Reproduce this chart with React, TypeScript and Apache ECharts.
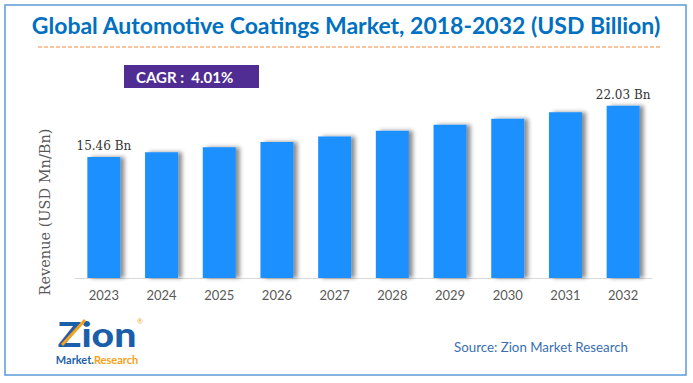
import React, { useEffect, useRef } from "react";
import * as echarts from "echarts";

const categories = ["2023", "2024", "2025", "2026", "2027", "2028", "2029", "2030", "2031", "2032"];
const revenue = [15.46, 16.08, 16.73, 17.4, 18.1, 18.82, 19.58, 20.36, 21.18, 22.03];
const labelledYears = ["2023", "2032"];
const titleText = "Global Automotive Coatings Market, 2018-2032 (USD Billion)";
const cagrText = "CAGR :  4.01%";
const yAxisName = "Revenue (USD Mn/Bn)";
const sourceText = "Source: Zion Market Research";

export default function App() {
  const ref = useRef<HTMLDivElement>(null);
  useEffect(() => {
    if (!ref.current) return;
    const chart = echarts.init(ref.current, undefined, { renderer: "svg" });
    const option: any = {
      animation: false,
      backgroundColor: "#ffffff",
      grid: { left: 75, right: 41, top: 59, bottom: 105 },
      xAxis: {
        type: "category",
        data: categories,
        axisLine: { show: true, lineStyle: { color: "#d9d9d9", width: 1 } },
        axisTick: { show: false },
        axisLabel: { color: "#595959", fontFamily: "Lato", fontSize: 13, margin: 10 },
      },
      yAxis: {
        type: "value",
        min: 0,
        max: 28,
        show: false,
        splitLine: { show: false },
      },
      series: [
        {
          type: "bar",
          barWidth: 33,
          data: revenue.map((v, i) => ({
            value: v,
            label: {
              show: labelledYears.includes(categories[i]),
              position: "top",
              distance: 5,
              formatter: (p: any) => p.value.toFixed(2) + " Bn",
              color: "#333333",
              fontFamily: "DejaVu Serif",
              fontSize: 12,
            },
          })),
          itemStyle: {
            color: "#1e90ff",
            shadowColor: "rgba(0,0,0,0.45)",
            shadowBlur: 4,
            shadowOffsetX: 4,
            shadowOffsetY: 0,
          },
        },
      ],
      graphic: [
        {
          type: "rect",
          shape: { x: 5, y: 5, width: 681, height: 370 },
          style: { fill: "none", stroke: "#5b9bd5", lineWidth: 1.5 },
          silent: true,
        },
        {
          type: "text",
          x: 346,
          y: 25,
          style: {
            text: titleText,
            fill: "#0070c0",
            font: "bold 23px Lato",
            align: "center",
            verticalAlign: "middle",
          },
        },
        {
          type: "line",
          shape: { x1: 38, y1: 47, x2: 660, y2: 47 },
          style: { stroke: "#f0883c", lineWidth: 1, lineDash: [4, 2] },
        },
        {
          type: "rect",
          shape: { x: 124, y: 65, width: 135, height: 23 },
          style: { fill: "#4f2d93" },
        },
        {
          type: "text",
          x: 136,
          y: 77,
          style: {
            text: cagrText,
            fill: "#ffffff",
            font: "bold 15px Lato",
            align: "left",
            verticalAlign: "middle",
          },
        },
        {
          type: "text",
          x: 45,
          y: 212,
          rotation: Math.PI / 2,
          style: {
            text: yAxisName,
            fill: "#595959",
            font: "14.5px 'DejaVu Serif'",
            align: "center",
            verticalAlign: "middle",
          },
        },
        {
          type: "text",
          x: 97,
          y: 334,
          scaleX: 1.15,
          style: {
            text: "Zion",
            fill: "#1b5faa",
            font: "900 34px Lato",
            align: "center",
            verticalAlign: "middle",
          },
        },
        {
          type: "line",
          shape: { x1: 62, y1: 345, x2: 85, y2: 320 },
          style: { stroke: "#f7a11a", lineWidth: 3 },
        },
        {
          type: "text",
          x: 140,
          y: 321,
          style: { text: "®", fill: "#f7a11a", font: "7px Lato", align: "center", verticalAlign: "middle" },
        },
        {
          type: "text",
          x: 97,
          y: 359,
          style: {
            text: "{a|Market.}{b|Research}",
            align: "center",
            verticalAlign: "middle",
            rich: {
              a: { fill: "#1b5faa", font: "bold 11px Lato", lineHeight: 11 },
              b: { fill: "#f7a11a", font: "bold 11px Lato", lineHeight: 11 },
            },
          },
        },
        {
          type: "text",
          x: 541,
          y: 347,
          style: {
            text: sourceText,
            fill: "#3a70b0",
            font: "13.3px Lato",
            align: "center",
            verticalAlign: "middle",
          },
        },
      ],
    };
    chart.setOption(option);
    return () => chart.dispose();
  }, []);
  return <div ref={ref} style={{ width: 693, height: 383, position: "absolute", left: 0, top: 0 }} />;
}
